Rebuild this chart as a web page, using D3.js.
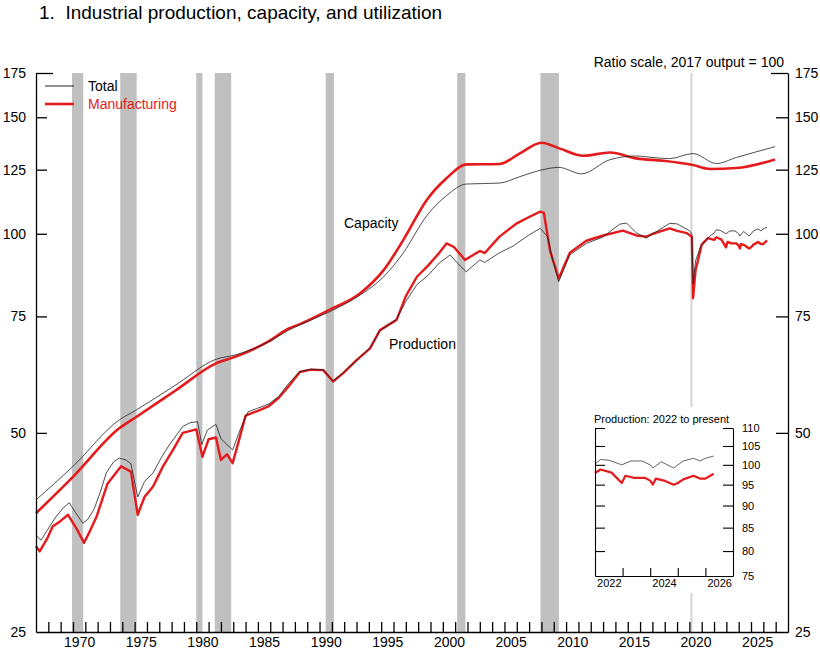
<!DOCTYPE html>
<html>
<head>
<meta charset="utf-8">
<script src="https://cdn.jsdelivr.net/npm/d3@7.9.0/dist/d3.min.js"></script>
<style>
  body { margin: 0; background: #fff; }
  svg { display: block; font-family: "Liberation Sans", Arial, Helvetica, sans-serif; }
  .axis text { font-size: 14px; fill: #000; }
  .axis path, .axis line { stroke: #000; stroke-width: 1.3; }
  .inset .axis text { font-size: 11px; }
  .inset .axis path, .inset .axis line { stroke-width: 1.1; }
</style>
</head>
<body>
<svg id="chart" width="820" height="649"></svg>
<script>
// Data, [year, index 2017 = 100]
const capacityTotal = [
  [1967.0, 39.6], [1970.0, 44.5], [1973.75, 52.3], [1975.1, 54.1], [1978.35, 59.1],
  [1981.6, 64.6], [1983.2, 65.6], [1985.9, 68.7], [1987.5, 71.5], [1988.4, 72.8],
  [1990.8, 76.2], [1993.3, 80.8], [1995.2, 86.1], [1996.8, 93.6], [1998.7, 106.5],
  [2000.3, 114.2], [2001.9, 118.9], [2004.6, 119.3], [2006.25, 122.0], [2007.9, 124.7],
  [2009.4, 126.0], [2011.25, 123.2], [2013.55, 129.4], [2015.7, 131.1], [2017.05, 130.4],
  [2018.4, 129.9], [2020.3, 132.2], [2022.2, 127.7], [2023.8, 130.4], [2026.95, 135.4]
];
const capacityMfg = [
  [1967.0, 37.8], [1970.0, 42.9], [1973.75, 50.8], [1975.1, 52.8], [1978.35, 58.0],
  [1981.6, 63.7], [1983.2, 65.2], [1985.9, 68.8], [1987.5, 71.9], [1988.4, 73.0],
  [1990.8, 76.7], [1993.3, 81.3], [1995.2, 88.1], [1996.8, 97.9], [1998.7, 112.5],
  [2000.3, 121.3], [2001.9, 127.3], [2004.6, 127.5], [2006.25, 132.3], [2008.0, 137.3],
  [2009.5, 134.5], [2011.4, 131.2], [2013.55, 132.7], [2015.7, 130.0], [2017.9, 128.9],
  [2020.3, 127.0], [2021.65, 125.3], [2023.8, 125.7], [2026.95, 129.5]
];
const productionTotal = [
  [1967.0, 35.0], [1967.4, 34.4], [1967.9, 35.6], [1968.6, 37.3], [1969.2, 38.5],
  [1969.7, 39.2], [1970.2, 37.9], [1970.8, 36.5], [1971.2, 37.0], [1971.7, 38.3],
  [1972.2, 40.6], [1972.7, 43.5], [1973.3, 45.2], [1973.75, 45.8], [1974.3, 45.5],
  [1974.7, 44.9], [1975.25, 40.0], [1975.8, 42.2], [1976.5, 43.5], [1977.2, 46.0],
  [1977.8, 47.9], [1978.9, 51.1], [1979.5, 51.8], [1980.1, 52.0], [1980.45, 48.0],
  [1980.9, 50.5], [1981.6, 51.5], [1982.0, 49.0], [1982.95, 47.1], [1983.6, 50.8],
  [1984.2, 53.8], [1985.0, 54.5], [1985.9, 55.3], [1986.7, 56.8], [1987.5, 59.4],
  [1988.4, 61.9], [1989.3, 62.4], [1990.3, 62.3], [1991.1, 59.9], [1991.9, 61.6],
  [1993.0, 64.3], [1994.1, 67.3], [1994.9, 71.3], [1996.25, 74.3], [1997.0, 79.0],
  [1997.9, 83.8], [1998.8, 86.5], [1999.7, 90.3], [2000.6, 92.9], [2001.2, 90.2],
  [2001.9, 87.6], [2003.0, 91.3], [2003.4, 90.5], [2004.6, 93.6], [2005.7, 95.8],
  [2006.0, 96.7], [2007.0, 99.6], [2007.9, 101.9], [2008.5, 99.0], [2008.9, 91.5],
  [2009.4, 84.6], [2010.3, 92.9], [2011.65, 96.7], [2013.0, 98.9], [2014.35, 103.4],
  [2014.9, 103.8], [2015.7, 100.3], [2016.5, 98.5], [2017.05, 100.0], [2018.4, 103.7],
  [2019.0, 103.5], [2020.0, 101.1], [2020.2, 99.8], [2020.3, 84.0], [2020.5, 91.0],
  [2020.9, 95.6], [2021.7, 99.4], [2022.0, 100.2], [2022.2, 101.4], [2022.5, 101.2],
  [2022.97, 100.0], [2023.3, 101.0], [2023.7, 101.0], [2024.0, 100.0], [2024.1, 99.2],
  [2024.4, 100.8], [2024.85, 99.2], [2025.2, 101.0], [2025.57, 101.7], [2025.8, 101.0],
  [2026.0, 101.7], [2026.3, 102.3]
];
const productionMfg = [
  [1967.0, 33.7], [1967.3, 33.1], [1967.9, 34.6], [1968.35, 36.1], [1969.0, 36.8],
  [1969.6, 37.6], [1970.3, 35.8], [1970.9, 34.1], [1971.3, 35.3], [1971.9, 37.3],
  [1972.8, 41.9], [1973.9, 44.5], [1974.7, 43.7], [1975.25, 37.6], [1975.8, 40.0],
  [1976.5, 41.5], [1977.3, 44.5], [1978.1, 47.1], [1978.9, 50.0], [1980.0, 50.6],
  [1980.5, 46.0], [1981.0, 48.9], [1981.6, 49.2], [1982.0, 45.5], [1982.5, 46.4],
  [1982.95, 45.0], [1983.5, 49.0], [1984.0, 53.1], [1985.0, 54.0], [1985.9, 54.9],
  [1986.7, 56.5], [1987.5, 58.8], [1988.4, 61.8], [1989.3, 62.3], [1990.3, 62.2],
  [1991.1, 59.8], [1991.9, 61.5], [1993.0, 64.4], [1994.1, 67.1], [1994.9, 71.5],
  [1996.25, 74.1], [1997.0, 80.5], [1997.9, 86.1], [1998.8, 89.5], [1999.7, 93.5],
  [2000.3, 96.7], [2000.9, 95.5], [2001.8, 91.3], [2003.0, 94.2], [2003.4, 93.5],
  [2004.6, 99.0], [2006.0, 103.7], [2007.0, 106.0], [2007.9, 108.0], [2008.2, 107.5],
  [2008.7, 94.2], [2009.4, 85.6], [2010.3, 93.6], [2011.65, 97.6], [2013.0, 99.4],
  [2014.6, 101.1], [2015.7, 99.4], [2016.5, 99.0], [2017.05, 100.0], [2018.4, 101.9],
  [2019.0, 101.0], [2019.8, 100.2], [2020.2, 99.0], [2020.3, 79.9], [2020.5, 88.0],
  [2021.0, 96.3], [2021.5, 98.5], [2022.0, 97.9], [2022.2, 98.8], [2022.6, 98.0],
  [2022.97, 95.4], [2023.1, 97.2], [2023.4, 96.7], [2023.8, 96.7], [2024.0, 96.0],
  [2024.1, 95.0], [2024.2, 96.5], [2024.5, 96.0], [2024.85, 95.0], [2025.0, 95.4],
  [2025.2, 96.3], [2025.57, 97.2], [2025.8, 96.5], [2026.0, 96.5], [2026.3, 97.7]
];
// Recessions: [start, end] as fractional years
const recessions = [
  [1969.917, 1970.833], [1973.833, 1975.167], [1980.0, 1980.5], [1981.5, 1982.833],
  [1990.5, 1991.167], [2001.167, 2001.833], [2007.917, 2009.417], [2020.083, 2020.25]
];
const yTicks = [25, 50, 75, 100, 125, 150, 175];
const insetTicks = [75, 80, 85, 90, 95, 100, 105, 110];
const labelYears = d3.range(1970, 2026, 5);
const insetLabelYears = [2022, 2024, 2026];

const red = "#e41a1c";
const dark = "#222";

const svg = d3.select("#chart");

// Scales (ratio scale = log)
const x = d3.scaleLinear().domain([1967, 2028]).range([36, 788]);
const y = d3.scaleLog().domain([25, 175]).range([632, 73]);

// Recession shading
svg.append("g")
  .selectAll("rect")
  .data(recessions)
  .join("rect")
  .attr("x", d => x(d[0]))
  .attr("width", d => x(d[1]) - x(d[0]))
  .attr("y", y(175))
  .attr("height", y(25) - y(175))
  .attr("fill", (d, i) => i === recessions.length - 1 ? "#d4d4d4" : "#c0c0c0");

// Lines
const capLine = d3.line().x(d => x(d[0])).y(d => y(d[1])).curve(d3.curveMonotoneX);
const prodLine = d3.line().x(d => x(d[0])).y(d => y(d[1]));

svg.append("path").datum(capacityMfg).attr("d", capLine)
  .attr("fill", "none").attr("stroke", red).attr("stroke-width", 2.6);
svg.append("path").datum(capacityTotal).attr("d", capLine)
  .attr("fill", "none").attr("stroke", dark).attr("stroke-width", 0.8);
svg.append("path").datum(productionMfg).attr("d", prodLine)
  .attr("fill", "none").attr("stroke", red).attr("stroke-width", 2.4).attr("stroke-linejoin", "round");
svg.append("path").datum(productionTotal).attr("d", prodLine)
  .attr("fill", "none").attr("stroke", dark).attr("stroke-width", 0.8);

// Axes
const leftAxis = svg.append("g").attr("class", "axis")
  .attr("transform", `translate(${x(1967)},0)`)
  .call(d3.axisLeft(y).tickValues(yTicks).tickFormat(d3.format("d")).tickSize(-11).tickSizeOuter(0).tickPadding(10));
const rightAxis = svg.append("g").attr("class", "axis")
  .attr("transform", `translate(${x(2028)},0)`)
  .call(d3.axisRight(y).tickValues(yTicks).tickFormat(d3.format("d")).tickSize(-12).tickSizeOuter(0).tickPadding(7));
// top tick is longer on both sides
leftAxis.selectAll(".tick line").filter(d => d === 175).attr("x2", 17);
rightAxis.selectAll(".tick line").filter(d => d === 175).attr("x2", -17);
leftAxis.selectAll(".tick line").filter(d => d === 25).remove();
rightAxis.selectAll(".tick line").filter(d => d === 25).remove();

svg.append("g").attr("class", "axis")
  .attr("transform", `translate(0,${y(25)})`)
  .call(d3.axisBottom(x).tickValues(d3.range(1968, 2028)).tickFormat("").tickSize(-10).tickSizeOuter(0));
svg.append("g").attr("class", "axis")
  .attr("transform", `translate(0,${y(25)})`)
  .call(d3.axisBottom(x).tickValues(labelYears.map(v => v + 0.5)).tickFormat(d => Math.floor(d)).tickSize(0).tickPadding(5))
  .call(g => g.select(".domain").remove());

// Titles and labels
svg.append("text").attr("x", 39).attr("y", 19)
  .attr("font-size", 19).style("white-space", "pre")
  .text("1.  Industrial production, capacity, and utilization");
svg.append("text").attr("x", 784).attr("y", 67).attr("text-anchor", "end")
  .attr("font-size", 14).text("Ratio scale, 2017 output = 100");
svg.append("text").attr("x", 344).attr("y", 228).attr("font-size", 14).text("Capacity");
svg.append("text").attr("x", 389).attr("y", 349).attr("font-size", 14).text("Production");

// Legend
const legend = [
  { label: "Total", color: dark, width: 1, text: "#000" },
  { label: "Manufacturing", color: red, width: 2.6, text: red }
];
const lg = svg.append("g");
legend.forEach((d, i) => {
  const ly = 86 + i * 18;
  lg.append("line").attr("x1", 45).attr("x2", 74).attr("y1", ly).attr("y2", ly)
    .attr("stroke", d.color).attr("stroke-width", d.width);
  lg.append("text").attr("x", 88).attr("y", ly + 5).attr("font-size", 14)
    .attr("fill", d.text).text(d.label);
});

// Inset: production 2022 to present
const xi = d3.scaleLinear().domain([2022, 2027]).range([595, 733]);
const yi = d3.scaleLog().domain([75, 110]).range([576, 428]);
const inset = svg.append("g").attr("class", "inset");
inset.append("rect").attr("x", 588).attr("y", 407).attr("width", 176).attr("height", 186).attr("fill", "#fff");
inset.append("text").attr("x", 594).attr("y", 423).attr("font-size", 11).text("Production: 2022 to present");

const insetLine = d3.line().x(d => xi(d[0])).y(d => yi(d[1]));
inset.append("path").datum(productionMfg.filter(d => d[0] >= 2022)).attr("d", insetLine)
  .attr("fill", "none").attr("stroke", red).attr("stroke-width", 2.2).attr("stroke-linejoin", "round");
inset.append("path").datum(productionTotal.filter(d => d[0] >= 2022)).attr("d", insetLine)
  .attr("fill", "none").attr("stroke", dark).attr("stroke-width", 0.7);

inset.append("g").attr("class", "axis")
  .attr("transform", `translate(${xi(2022)},0)`)
  .call(d3.axisLeft(yi).tickValues(insetTicks).tickFormat("").tickSize(-10).tickSizeOuter(0))
  .call(g => g.selectAll(".tick").filter(d => d === 75).remove());
inset.append("g").attr("class", "axis")
  .attr("transform", `translate(${xi(2027)},0)`)
  .call(d3.axisRight(yi).tickValues(insetTicks).tickFormat(d3.format("d")).tickSize(-10).tickSizeOuter(0).tickPadding(9))
  .call(g => g.selectAll(".tick line").filter(d => d === 75).remove());
inset.append("g").attr("class", "axis")
  .attr("transform", `translate(0,${yi(75)})`)
  .call(d3.axisBottom(xi).tickValues([2023, 2024, 2025, 2026]).tickFormat("").tickSize(-8).tickSizeOuter(0));
inset.append("g").attr("class", "axis")
  .attr("transform", `translate(0,${yi(75)})`)
  .call(d3.axisBottom(xi).tickValues(insetLabelYears.map(v => v + 0.5)).tickFormat(d => Math.floor(d)).tickSize(0).tickPadding(3))
  .call(g => g.select(".domain").remove());
</script>
</body>
</html>
